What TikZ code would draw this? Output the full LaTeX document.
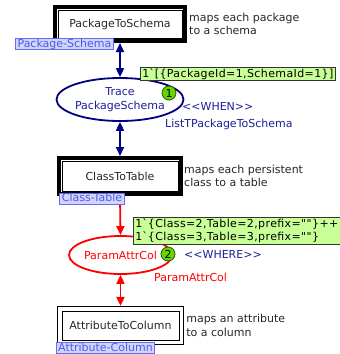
\documentclass[tikz,border=0pt]{standalone}
\usepackage{fontspec}
\setmainfont{DejaVu Sans}[Ligatures=TeXOff]
\newfontfamily\tokenfont{DejaVu Sans}[Ligatures=TeXOff,LetterSpace=3.5]
\usetikzlibrary{shapes.geometric,arrows.meta,fit,positioning}

\definecolor{navyline}{RGB}{0,0,128}
\definecolor{navytext}{RGB}{30,30,150}
\definecolor{tokenfill}{RGB}{200,255,150}
\definecolor{countfill}{RGB}{100,215,0}
\definecolor{countline}{RGB}{40,90,0}
\definecolor{tagfill}{RGB}{208,212,255}
\definecolor{tagline}{RGB}{100,110,240}
\definecolor{tagtext}{RGB}{80,90,230}

\begin{document}
\begin{tikzpicture}[x=1pt,y=-1pt,
  font=\fontsize{11}{13.5}\selectfont,
  substbox/.style={draw,line width=1pt,inner sep=0pt,text=black!85},
  thickframe/.style={draw,line width=4pt,inner sep=2.5pt},
  thinframe/.style={draw,line width=1.2pt,inner sep=4pt},
  comment/.style={align=left,inner sep=0pt,text=black!85},
  tag/.style={draw=tagline,fill=tagfill,text=tagtext,line width=0.8pt,
    inner xsep=2pt,inner ysep=0.5pt,text height=8pt,text depth=2pt},
  navyplace/.style={ellipse,draw=navyline,line width=1.8pt,text=navytext,
    align=center,inner sep=0pt},
  redplace/.style={ellipse,draw=red,line width=1.8pt,text=red,inner sep=0pt},
  token/.style={draw=black!80,fill=tokenfill,line width=0.8pt,align=left,
    inner xsep=2pt,inner ysep=1pt,anchor=north west,
    font=\fontsize{11}{13.5}\tokenfont},
  tokencount/.style={circle,draw=countline,fill=countfill,line width=0.8pt,
    inner sep=0pt,minimum size=14pt},
  navyarc/.style={navyline,line width=1.8pt},
  redarc/.style={red,line width=1.8pt},
  >={Triangle[length=9pt,width=8pt]}]
\useasboundingbox (0,0) rectangle (340,354);

% substitution transitions
\node[substbox,minimum width=124pt,minimum height=28pt] (pts) at (120,24) {PackageToSchema};
\node[thickframe,fit=(pts)] (ptsframe) {};
\node[substbox,minimum width=116pt,minimum height=30pt] (ctt) at (120,176) {ClassToTable};
\node[thickframe,fit=(ctt)] (cttframe) {};
\node[substbox,minimum width=117pt,minimum height=29pt] (atc) at (120.5,325.5) {AttributeToColumn};
\node[thinframe,fit=(atc)] (atcframe) {};

\node[comment,right=2pt of ptsframe] (ptsnote) {maps each package\\to a schema};
\node[comment,right=1pt of cttframe] (cttnote) {maps each persistent\\class to a table};
\node[comment,right=2pt of atcframe] (atcnote) {maps an attribute\\to a column};

% places
\node[navyplace,minimum width=114pt,minimum height=43pt] (trace) at (120,99.5) {Trace\\PackageSchema};
\node[redplace,minimum width=87pt,minimum height=38pt] (param) at (120.5,255) {ParamAttrCol};

% arcs
\draw[navyarc,<->] (ptsframe.south) -- (trace.north);
\draw[navyarc,<->] (trace.south) -- (cttframe.north);
\draw[redarc,->] (cttframe.south) -- (param.north);
\draw[redarc,<->] (param.south) -- (atcframe.north);

% tags
\node[tag] (ptstag) at (64.5,44) {Package-Schema};
\node[tag] (ctttag) at (92,198.5) {Class-Table};
\node[tag] (atctag) at (105.5,348) {Attribute-Column};

% inscriptions
\node[anchor=west,inner sep=0pt,text=navytext] (when) at (182,106) {<<WHEN>>};
\node[anchor=west,inner sep=0pt,text=navytext] (tracetype) at (165,124) {ListTPackageToSchema};
\node[anchor=west,inner sep=0pt,text=navytext] (where) at (184,254) {<<WHERE>>};
\node[anchor=west,inner sep=0pt,text=red] (paramtype) at (154,277) {ParamAttrCol};

% markings
\node[token] (tracetok) at (140,67) {1\textasciigrave[\{PackageId=1,SchemaId=1\}]};
\node[token] (paramtok) at (133,217) {1\textasciigrave\{Class=2,Table=2,prefix=""\}++\\1\textasciigrave\{Class=3,Table=3,prefix=""\}};
\node[tokencount] (tracecount) at (169,93) {1};
\node[tokencount] (paramcount) at (168,254) {2};
\end{tikzpicture}
\end{document}
